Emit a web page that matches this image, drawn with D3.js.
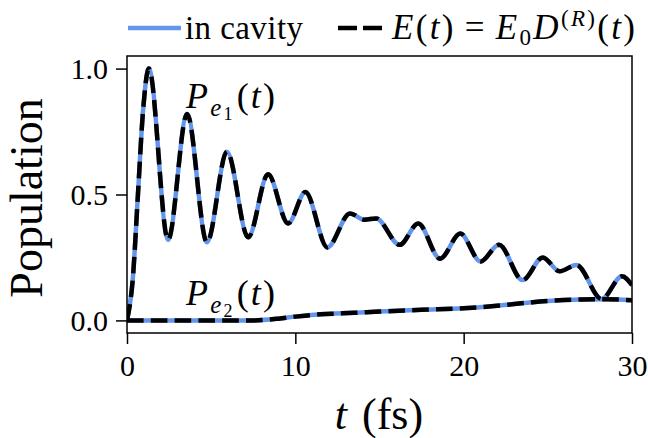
<!DOCTYPE html>
<html lang="en">
<head>
<meta charset="UTF-8">
<title>Population</title>
<script src="https://cdn.jsdelivr.net/npm/d3@7"></script>
<style>
  body { margin: 0; background: #fff; }
  svg text { font-family: "Liberation Serif", "DejaVu Serif", serif; fill: #000; }
</style>
</head>
<body>
<div id="chart"></div>
<script>
// values (t in fs)
const e1Times  = [0, 0.35, 0.65, 0.95, 1.3, 2.44, 3.57, 4.75, 5.94, 7.2, 8.38, 9.57, 10.6, 11.9, 13.25, 14.1, 14.8, 16.2, 17.3, 18.6, 19.8, 21.0, 22.1, 23.5, 24.7, 25.7, 26.7, 28.2, 29.4, 30];
const e1Values = [0, 0.17, 0.5, 0.83, 1.0, 0.32, 0.82, 0.31, 0.67, 0.33, 0.58, 0.385, 0.51, 0.29, 0.425, 0.40, 0.405, 0.30, 0.385, 0.245, 0.345, 0.234, 0.30, 0.16, 0.25, 0.195, 0.22, 0.085, 0.175, 0.14];

const e2Times  = [0, 7.5, 9, 10, 11.5, 13.5, 15, 17.5, 20, 21.5, 23, 25, 27, 28.5, 30];
const e2Values = [0, 0, 0.007, 0.015, 0.024, 0.03, 0.035, 0.042, 0.048, 0.055, 0.065, 0.077, 0.083, 0.084, 0.08];

const xTicks = [0, 10, 20, 30];
const yTicks = [0, 0.5, 1.0];

const blue = "#6495ed";

const margin = {top: 56, right: 16, bottom: 105, left: 127},
    width = 648 - margin.left - margin.right,
    height = 438 - margin.top - margin.bottom;

const root = d3.select("#chart")
  .append("svg")
    .attr("width", 648)
    .attr("height", 438);

const svg = root.append("g")
    .attr("transform", `translate(${margin.left},${margin.top})`);

const x = d3.scaleLinear().domain([0, 30]).range([0, width]);
const y = d3.scaleLinear().domain([-0.05, 1.05]).range([height, 0]);

// X axis
const xAxis = svg.append("g")
    .attr("transform", `translate(0,${height})`)
    .call(d3.axisBottom(x).tickValues(xTicks).tickSize(11).tickSizeOuter(0).tickPadding(11));
// Y axis
const yAxis = svg.append("g")
    .call(d3.axisLeft(y).tickValues(yTicks).tickFormat(d3.format(".1f")).tickSize(11).tickSizeOuter(0).tickPadding(8));

[xAxis, yAxis].forEach(function(g) {
  g.select(".domain").remove();
  g.selectAll(".tick line").attr("stroke", "#000").attr("stroke-width", 1.5);
  g.selectAll(".tick text")
    .style("font-family", "'Liberation Serif', serif")
    .style("font-size", "30px")
    .attr("fill", "#000");
});

// clip for the lines
svg.append("clipPath").attr("id", "clip")
  .append("rect").attr("width", width).attr("height", height);

const line = d3.line()
    .x(d => x(d[0]))
    .y(d => y(d[1]))
    .curve(d3.curveMonotoneX);

const series = [
  d3.zip(e1Times, e1Values),
  d3.zip(e2Times, e2Values)
];

const plot = svg.append("g").attr("clip-path", "url(#clip)");

series.forEach(function(s) {
  plot.append("path")
    .datum(s)
    .attr("fill", "none")
    .attr("stroke", blue)
    .attr("stroke-width", 4.5)
    .attr("d", line);
});
series.forEach(function(s) {
  plot.append("path")
    .datum(s)
    .attr("fill", "none")
    .attr("stroke", "#000")
    .attr("stroke-width", 4.5)
    .attr("stroke-dasharray", "16.6,7.2")
    .attr("d", line);
});

// frame
svg.append("rect")
  .attr("width", width)
  .attr("height", height)
  .attr("fill", "none")
  .attr("stroke", "#000")
  .attr("stroke-width", 1.5);

// writes a run of text pieces: i = italic, sub / sup shift baseline
function richText(sel, parts, size) {
  const t = sel.append("text").style("font-size", size + "px");
  let shift = 0;
  parts.forEach(function(p) {
    const target = p.sub ? p.sub : (p.sup ? -p.sup : 0);
    const sp = t.append("tspan")
      .text(p.t)
      .attr("dy", target - shift)
      .style("font-style", p.i ? "italic" : "normal");
    if (p.s) sp.style("font-size", p.s + "px");
    if (p.dx) sp.attr("dx", p.dx);
    shift = target;
  });
  return t;
}

// curve labels
richText(svg, [
  {t: "P", i: true},
  {t: "e", i: true, sub: 8, s: 25},
  {t: "1", sub: 12, s: 18},
  {t: "(", dx: 2},
  {t: "t", i: true},
  {t: ")"}
], 36).attr("x", 59).attr("y", 52).attr("textLength", 89).attr("lengthAdjust", "spacing");

richText(svg, [
  {t: "P", i: true},
  {t: "e", i: true, sub: 8, s: 25},
  {t: "2", sub: 12, s: 18},
  {t: "(", dx: 2},
  {t: "t", i: true},
  {t: ")"}
], 36).attr("x", 59).attr("y", 249).attr("textLength", 89).attr("lengthAdjust", "spacing");

// axis titles
root.append("text")
  .attr("transform", "translate(42,198) rotate(-90)")
  .attr("text-anchor", "middle")
  .style("font-size", "46px")
  .text("Population");

richText(root, [
  {t: "t", i: true},
  {t: " (fs)", dx: 4}
], 44).attr("x", 379).attr("y", 429).attr("text-anchor", "middle");

// legend
root.append("line")
  .attr("x1", 128).attr("x2", 181).attr("y1", 28).attr("y2", 28)
  .attr("stroke", blue).attr("stroke-width", 4.5);
root.append("text")
  .attr("x", 185).attr("y", 39)
  .style("font-size", "33px")
  .attr("textLength", 118).attr("lengthAdjust", "spacing")
  .text("in cavity");

root.append("line")
  .attr("x1", 338).attr("x2", 382).attr("y1", 28).attr("y2", 28)
  .attr("stroke", "#000").attr("stroke-width", 4.5)
  .attr("stroke-dasharray", "19,6");
richText(root, [
  {t: "E", i: true},
  {t: "("},
  {t: "t", i: true},
  {t: ")"},
  {t: "=", dx: 9},
  {t: "E", i: true, dx: 9},
  {t: "0", sub: 6, s: 23},
  {t: "D", i: true},
  {t: "(", sup: 13, s: 23},
  {t: "R", i: true, sup: 13, s: 23},
  {t: ")", sup: 13, s: 23},
  {t: "("},
  {t: "t", i: true},
  {t: ")"}
], 35).attr("x", 392).attr("y", 39).attr("textLength", 243).attr("lengthAdjust", "spacing");
</script>
</body>
</html>
